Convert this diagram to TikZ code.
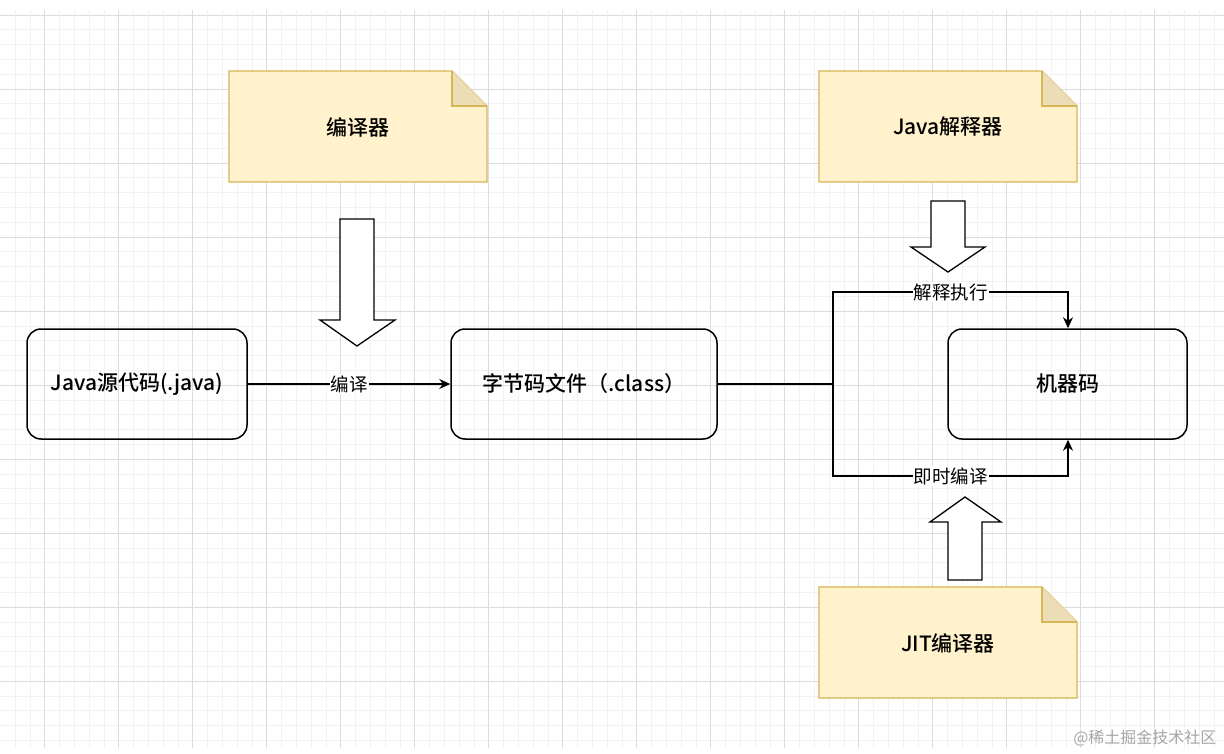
\documentclass[tikz,border=0pt]{standalone}
\usepackage{fontspec}
\setmainfont{Noto Sans CJK SC}
\newfontfamily\med{Noto Sans CJK SC Medium}
\usetikzlibrary{arrows.meta}
\begin{document}
\begin{tikzpicture}[x=1pt,y=-1pt,
  box/.style={draw,line width=1.5pt,rounded corners=14pt,font=\fontsize{21}{24}\selectfont\med},
  notebody/.style={fill=noteF,draw=noteD,line width=1.2pt},
  lbl/.style={fill=white,inner sep=1pt,font=\fontsize{18.5}{21}\selectfont},
  conn/.style={line width=1.3pt},
  tip/.style={-{Stealth[length=11pt,width=10pt]}},
  bigarrow/.style={draw,line width=1.3pt,fill=white}]
\definecolor{noteF}{HTML}{FFF2CC}
\definecolor{noteD}{HTML}{D6B656}
\definecolor{foldF}{HTML}{EBDDB5}
\definecolor{gminor}{HTML}{F2F2F2}
\definecolor{gmajor}{HTML}{DCDCDC}
\useasboundingbox (0,0) rectangle (1224,754);
\fill[white] (0,0) rectangle (1224,754);
% grid
\foreach \i in {-2,...,80}{
  \pgfmathsetmacro\gx{44.7+14.8*\i}
  \ifdim\gx pt>0pt \ifdim\gx pt<1224pt
  \draw[gminor,line width=0.6pt] (\gx,10) -- (\gx,748);\fi\fi}
\foreach \j in {-1,...,50}{
  \pgfmathsetmacro\gy{15+14.8*\j}
  \ifdim\gy pt>9pt \ifdim\gy pt<749pt
  \draw[gminor,line width=0.6pt] (0,\gy) -- (1224,\gy);\fi\fi}
\foreach \i in {0,...,16}{\draw[gmajor,line width=0.7pt] (44.7+74*\i,10) -- (44.7+74*\i,748);}
\foreach \j in {0,...,9}{\draw[gmajor,line width=0.7pt] (0,15+74*\j) -- (1224,15+74*\j);}
% notes
\foreach \nx/\ny/\nm/\t in {229/71/n1/编译器,819/71/n2/Java解释器,819/587/n3/JIT编译器}{
  \draw[notebody] (\nx,\ny) -- (\nx+223,\ny) -- (\nx+258,\ny+35) -- (\nx+258,\ny+111) -- (\nx,\ny+111) -- cycle;
  \draw[notebody,fill=foldF] (\nx+223,\ny) -- (\nx+223,\ny+35) -- (\nx+258,\ny+35);
  \node[font=\fontsize{21}{24}\selectfont\med] (\nm) at (\nx+129,\ny+56) {\t};
}
% boxes
\node[box,minimum width=220pt,minimum height=110pt] (src) at (137,384) {Java源代码(.java)};
\node[box,minimum width=266pt,minimum height=110pt] (cls) at (584,384) {字节码文件（.class）};
\node[box,minimum width=239pt,minimum height=110pt] (mc) at (1067.5,384) {机器码};
% connectors
\draw[conn,tip] (src) -- node[lbl]{编译} (cls);
\coordinate (j) at (833,384);
\coordinate (jt) at (833,292);
\coordinate (jb) at (833,476);
\coordinate (rx) at (1068,0);
\draw[conn] (cls.east) -- (j);
\draw[conn,tip] (j) -- (jt) -- node[lbl,pos=0.5]{解释执行} (jt -| rx) -- (mc.north -| rx);
\draw[conn,tip] (j) -- (jb) -- node[lbl,pos=0.5]{即时编译} (jb -| rx) -- (mc.south -| rx);
% block arrows
\draw[bigarrow] (340,219) -- (374,219) -- (374,320) -- (395,320) -- (357,346) -- (320,320) -- (340,320) -- cycle;
\draw[bigarrow] (931,201) -- (965,201) -- (965,247) -- (985,247) -- (948,272) -- (911,247) -- (931,247) -- cycle;
\draw[bigarrow] (948,580) -- (982,580) -- (982,522) -- (1001,522) -- (965,497) -- (930,522) -- (948,522) -- cycle;
% watermark
\node[text=gray!70,font=\fontsize{16}{18}\selectfont,anchor=east] (wm) at (1220,738) {@稀土掘金技术社区};
\end{tikzpicture}
\end{document}
